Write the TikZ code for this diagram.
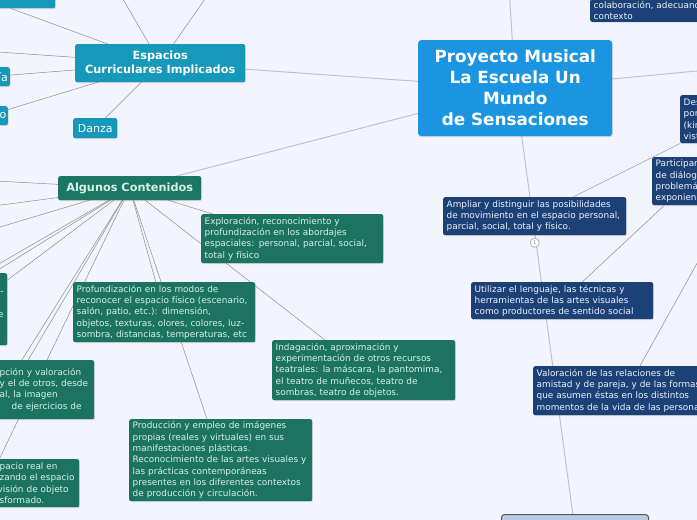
\documentclass[tikz,border=0pt]{standalone}
\usepackage{fontspec}
\setmainfont{DejaVu Sans}
\usetikzlibrary{positioning,shadows}
\definecolor{pagebg}{HTML}{F2F5FD}
\definecolor{hubblue}{HTML}{1B95E2}
\definecolor{areateal}{HTML}{1598BA}
\definecolor{topicgreen}{HTML}{1B7662}
\definecolor{leafgreen}{HTML}{1C7460}
\definecolor{mint}{HTML}{D6F1E6}
\definecolor{goalblue}{HTML}{1B4177}
\definecolor{goaltext}{HTML}{EEF2FA}
\definecolor{paleblue}{HTML}{B9CCE6}
\definecolor{linegray}{HTML}{8E8E8E}
\definecolor{lightline}{HTML}{BFC3C9}
\pgfdeclarelayer{bg}
\pgfdeclarelayer{edges}
\pgfsetlayers{bg,edges,main}

\begin{document}
\begin{tikzpicture}[
    x=1pt, y=-1pt,
    shade/.style={drop shadow={shadow xshift=.7pt, shadow yshift=-.9pt, opacity=.25}},
    hub/.style={fill=hubblue, text=white, rounded corners=3pt, align=center, inner sep=0pt,
      anchor=north west, font=\bfseries\fontsize{16.8}{21}\selectfont, shade},
    area/.style={fill=areateal, text=white, rounded corners=2pt, align=center, inner sep=0pt,
      anchor=north west, font=\fontsize{11}{13}\selectfont, shade},
    topic/.style={fill=topicgreen, text=mint, rounded corners=2pt, align=center, inner sep=0pt,
      anchor=north west, font=\bfseries\fontsize{11.3}{13}\selectfont, shade},
    leaf/.style={fill=leafgreen, text=mint, rounded corners=2pt, align=left, anchor=north west,
      inner xsep=3.5pt, inner ysep=2pt, font=\fontsize{8.9}{11.3}\selectfont, shade},
    goal/.style={leaf, fill=goalblue, text=goaltext},
    dot/.style={circle, draw=black!35, fill=white, line width=.6pt, inner sep=0pt,
      minimum size=9pt, text=black!45, font=\fontsize{5}{5}\selectfont},
    link/.style={draw=linegray, line width=.5pt},
    mainlink/.style={draw=lightline, line width=1pt}
]
\useasboundingbox (0,0) rectangle (697,520);
\begin{pgfonlayer}{bg}
  \fill[pagebg] (0,0) rectangle (697,520);
\end{pgfonlayer}
\clip (0,0) rectangle (697,520);

% central topic
\node[hub, minimum width=194pt, minimum height=96pt] (hub) at (418,40)
  {Proyecto Musical\\La Escuela Un\\Mundo\\de Sensaciones};

% espacios curriculares
\node[area, minimum width=170pt, minimum height=38pt, font=\bfseries\fontsize{11.3}{14}\selectfont]
  (esp) at (75,44) {Espacios\\Curriculares Implicados};
\node[area, minimum width=44pt, minimum height=20pt] (danza) at (73,118) {Danza};
\node[area, minimum width=150pt, minimum height=22pt] (espTop) at (-95,-14) {};
\node[area, anchor=north east, minimum width=40pt, minimum height=19pt, text width=36pt,
  align=right] (espIa) at (10,67) {ía};
\node[area, anchor=north east, minimum width=40pt, minimum height=19pt, text width=37pt,
  align=right] (espO) at (8,106) {o};

% algunos contenidos
\node[topic, minimum width=143pt, minimum height=24pt] (alg) at (58,176) {Algunos Contenidos};
\node[leaf, text width=175pt, minimum height=49pt] (explo) at (201,214)
  {Exploración, reconocimiento y\\profundización en los abordajes\\espaciales: personal, parcial, social,\\total y físico};
\node[leaf, text width=175pt, minimum height=60pt] (profu) at (73,282)
  {Profundización en los modos de\\reconocer el espacio físico (escenario,\\salón, patio, etc.): dimensión,\\objetos, texturas, olores, colores, luz-\\sombra, distancias, temperaturas, etc};
\node[leaf, text width=176pt, minimum height=60pt] (indag) at (272,340)
  {Indagación, aproximación y\\experimentación de otros recursos\\teatrales: la máscara, la pantomima,\\el teatro de muñecos, teatro de\\sombras, teatro de objetos.};
\node[leaf, text width=176pt, minimum height=82pt] (produ) at (129,419)
  {Producción y empleo de imágenes\\propias (reales y virtuales) en sus\\manifestaciones plásticas.\\Reconocimiento de las artes visuales y\\las prácticas contemporáneas\\presentes en los diferentes contextos\\de producción y circulación.};
\node[leaf, text width=175pt, minimum height=59pt] (percep) at (-88,360)
  {\hspace*{84pt}\rlap{pción y valoración}\\\hspace*{84pt}\rlap{y el de otros, desde}\\
   \hspace*{84pt}\rlap{al, la imagen}\\\hspace*{96pt}\rlap{de ejercicios de}};
\node[leaf, text width=176pt, minimum height=48pt] (espac) at (-104,459)
  {\hspace*{100pt}\rlap{pacio real en}\\\hspace*{100pt}\rlap{zando el espacio}\\
   \hspace*{98pt}\rlap{visión de objeto}\\\hspace*{100pt}\rlap{sformado.}};
\node[leaf, text width=70pt, minimum height=72pt, align=right] (algLeft) at (-70,273)
  {\strut\\-\\\strut\\e\\\strut\\\strut};

% objetivos
\node[goal, text width=176pt, minimum height=38pt] (ampl) at (443,197)
  {Ampliar y distinguir las posibilidades\\de movimiento en el espacio personal,\\parcial, social, total y físico.};
\node[dot, below=2.5pt of ampl] (amplDot) {1};
\node[goal, text width=175pt, minimum height=37pt] (util) at (471,282)
  {Utilizar el lenguaje, las técnicas y\\herramientas de las artes visuales\\como productores de sentido social};
\node[goal, text width=179pt, minimum height=49pt] (valor) at (533,366)
  {Valoración de las relaciones de\\amistad y de pareja, y de las formas\\que asumen éstas en los distintos\\momentos de la vida de las personas};
\node[goal, anchor=south west, text width=181pt] (colab) at (590,22)
  {colaboración, adecuando\\contexto};
\node[goal, text width=90pt, minimum height=48pt] (desa) at (680,95)
  {Des\\por\\(kin\\vist};
\node[goal, text width=69pt, minimum height=48pt] (parti) at (652,157)
  {Participar\\de diálog\\problemá\\exponien};
\node[anchor=north west, fill=paleblue, draw=black!65, line width=1pt, rounded corners=3pt,
  minimum width=147pt, minimum height=32pt, shade] (bottom) at (501,514) {};

% off-page ends
\coordinate (hubUp) at (505,-80);
\coordinate (hubRight) at (760,65);
\coordinate (espUpA) at (73,-87);
\coordinate (espUpB) at (265,-87);
\coordinate (espLeft) at (-60,48);
\coordinate (algOutA) at (-60,178);
\coordinate (algOutB) at (-60,213);
\coordinate (algOutC) at (-60,245);
\coordinate (algOutD) at (-60,298);
\coordinate (algOutE) at (-60,306);
\coordinate (algDown) at (-90,560);
\coordinate (valorUp) at (740,186);

\begin{pgfonlayer}{edges}
  \clip (0,0) rectangle (697,520);
  % central spokes
  \foreach \t in {esp, alg, hubUp, hubRight, bottom}
    \draw[mainlink] (hub.center) -- (\t);
  % espacios
  \foreach \t in {danza, espTop, espIa, espO, espUpA, espUpB, espLeft}
    \draw[link] (esp.center) -- (\t);
  % contenidos
  \foreach \t in {explo, profu, indag, produ, percep, espac, algLeft,
                  algOutA, algOutB, algOutC, algOutD, algOutE, algDown}
    \draw[link] (alg.center) -- (\t);
  % objetivos
  \draw[link] (ampl.center) -- (desa);
  \draw[link] (util.center) -- (parti);
  \draw[link] (valor.center) -- (valorUp);
\end{pgfonlayer}
\end{tikzpicture}
\end{document}
